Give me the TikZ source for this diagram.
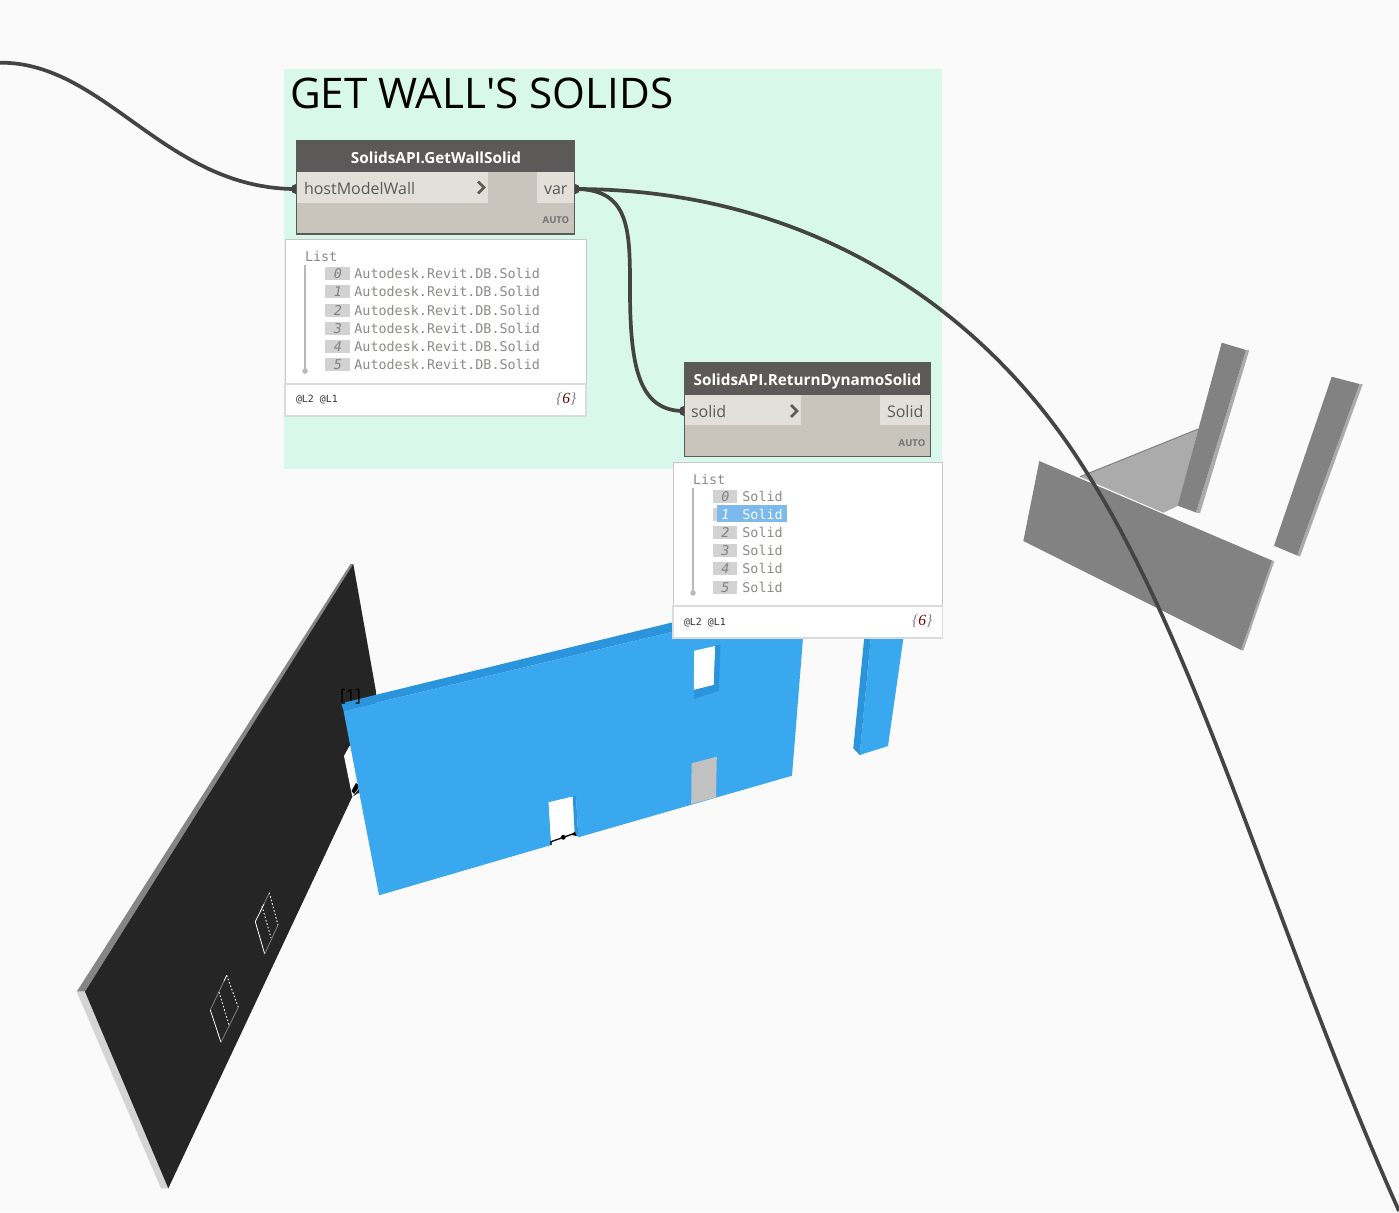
\documentclass[tikz,border=0pt]{standalone}
\usepackage{fontspec}
\setmainfont{Open Sans}
\newfontfamily\monof{DejaVu Sans Mono}
\newfontfamily\serifit{Liberation Serif}
\definecolor{bgc}{HTML}{FAFAFA}
\definecolor{groupc}{HTML}{D8F8EB}
\definecolor{headc}{HTML}{5C5A58}
\definecolor{bodyc}{HTML}{C9C5BD}
\definecolor{rowc}{HTML}{E3E0DA}
\definecolor{wirec}{HTML}{444444}
\definecolor{blueface}{HTML}{3AA8EE}
\definecolor{bluedark}{HTML}{2A95DC}
\definecolor{greyface}{HTML}{828282}
\definecolor{greylite}{HTML}{ABABAB}
\definecolor{blackface}{HTML}{252525}
\definecolor{listtxt}{HTML}{8C8A86}
\definecolor{idxbox}{HTML}{D2D2D2}
\definecolor{hilite}{HTML}{7CB9EC}
\tikzset{
  panel/.style={anchor=north west,inner sep=0pt,outer sep=0pt},
  nodebody/.style={panel,fill=bodyc,draw=headc,line width=1.3pt},
  nodehead/.style={panel,fill=headc},
  portrow/.style={panel,fill=rowc},
  preview/.style={panel,fill=white,draw=black!22,line width=1pt},
  footer/.style={panel,fill=white,draw=black!14,line width=1.2pt},
  idx/.style={panel,fill=idxbox,minimum height=13pt},
  lbl/.style={anchor=base west,inner sep=0pt,outer sep=0pt},
  headtxt/.style={anchor=base,inner sep=0pt,text=white,font=\fontsize{15.3}{16}\selectfont\bfseries},
  porttxt/.style={lbl,text=headc,font=\fontsize{16}{16}\selectfont},
  autotxt/.style={anchor=base east,inner sep=0pt,text=black!55,font=\fontsize{9.5}{10}\selectfont\bfseries},
  monotxt/.style={lbl,text=listtxt,font=\fontsize{13.4}{14}\selectfont\monof},
  idxtxt/.style={anchor=base,inner sep=0pt,text=black!50,font=\fontsize{13.4}{14}\selectfont\monof\itshape},
  smalltxt/.style={lbl,text=black!80,font=\fontsize{9.9}{10}\selectfont\monof},
  counttxt/.style={anchor=base east,inner sep=0pt,font=\fontsize{15.5}{16}\selectfont\serifit\itshape},
  port/.style={circle,fill=wirec,inner sep=0pt,minimum size=10pt},
  wire/.style={draw=wirec,line width=3.7pt},
  treeline/.style={draw=black!28,line width=1.6pt},
  treedot/.style={circle,fill=black!28,inner sep=0pt,minimum size=5.5pt},
  chev/.style={draw=headc,line width=2.8pt,line cap=butt,miter limit=10},
  dots/.style={draw=white,line width=.8pt},
  dotted2/.style={draw=white,line width=.9pt,dash pattern=on 1.6pt off 2pt}
}
\begin{document}
\begin{tikzpicture}[x=1pt,y=-1pt]
\path[use as bounding box,fill=bgc] (0,0) rectangle (1399,1212);

% ---- black wall
\fill[black!48] (76.7,991.7) -- (350.5,564) -- (353.3,564) -- (85,991.7) -- cycle;
\fill[black!17] (76.7,991.7) -- (85,991.7) -- (168.3,1188.3) -- (161,1188.3) -- cycle;
\fill[blackface] (85,991.7) -- (353.3,564) -- (376,691.7) -- (380,780) -- (352.3,796.7) -- (168.3,1188.3) -- cycle;
\fill[white] (344,756) -- (349.5,746) -- (362,746) -- (362,785) -- (352.3,796.7) -- cycle;
\fill[black] (351.5,791) -- (356,783) -- (360,786) -- (354,794) -- cycle;
% window marks
\draw[dots] (264,904) -- (255.3,921.7) -- (264.7,954);
\draw[dots,draw=black!50] (269.3,892.7) -- (264,904);
\draw[dotted2] (269.3,892.7) -- (278,925);
\draw[dotted2] (262,906) -- (271,938);
\draw[dots,draw=black!50] (278,925) -- (264.7,954);
\draw[dots] (226.7,975.3) -- (224,981);
\draw[dots,draw=black!50] (224,981) -- (210.3,1010);
\draw[dots] (210.3,1010) -- (221,1042.3);
\draw[dotted2] (226.7,975.3) -- (238.3,1007.3);
\draw[dotted2] (219,992) -- (229,1025);
\draw[dots,draw=black!50] (238.3,1007.3) -- (221,1042.3);

% ---- blue wall
\fill[bluedark] (341.3,703.3) -- (805,590) -- (805,600) -- (343.5,710.7) -- cycle;
\fill[blueface] (343.5,710.7) -- (805,600) -- (803,638) -- (792,775.7) -- (578.3,837.3) -- (576,796) -- (572.7,796.7) -- (548.6,802.3) -- (551.2,845) -- (379,895.3) -- cycle;
\fill[white] (548.6,802.3) -- (572.7,796.7) -- (574.6,833) -- (551.2,842) -- cycle;
\fill[bluedark] (572.7,796) -- (576,796) -- (578.3,837.3) -- (574.6,831.7) -- cycle;
\draw[black,line width=1.3pt] (551,845) -- (551,841.7) -- (563.3,837.3) -- (574.6,833.3);
\fill[black] (563.3,837.3) circle (2.4pt);
\fill[black] (574.6,831.5) -- (577,836) -- (572,835) -- cycle;
% upper window
\fill[white] (694.2,650.7) -- (715.3,646) -- (713.8,685) -- (693.8,690) -- cycle;
\fill[bluedark] (715.3,645) -- (720.5,645) -- (719,690.7) -- (713.8,685) -- cycle;
\fill[bluedark] (693.8,690) -- (713.8,685) -- (719,690.7) -- (694.2,699) -- cycle;
% grey door
\fill[black!24] (691.6,763.3) -- (716.8,756.7) -- (716,797.3) -- (691.2,804) -- cycle;
% blue column
\fill[blueface] (872.5,620) -- (906,620) -- (888,746) -- (859.7,755) -- cycle;
\fill[bluedark] (866,620) -- (872.5,620) -- (859.7,755) -- (853.3,748.3) -- cycle;
\node[inner sep=0pt,anchor=base,font=\fontsize{17}{17}\selectfont,text=black] (lblone) at (350.5,701) {[1]};

% ---- grey solids
\fill[greylite] (1198.3,429) -- (1080,476.7) -- (1163.3,512.7) -- (1178.3,505.7) -- cycle;
\draw[black!50,line width=1pt] (1198.3,429) -- (1080,476.7);
\fill[greylite] (1246,350) -- (1249.3,350) -- (1200,513.3) -- (1196,512.5) -- cycle;
\fill[greyface] (1221.7,342.7) -- (1246,350) -- (1196,512.5) -- (1177.7,505.7) -- cycle;
\fill[greylite] (1359.5,384) -- (1362.7,384.3) -- (1300,556.7) -- (1297,555.5) -- cycle;
\fill[greyface] (1331.7,376.7) -- (1359.5,384) -- (1297,555.5) -- (1274,545.7) -- cycle;
\fill[greylite] (1272,560.5) -- (1274.3,561) -- (1243.3,650.7) -- (1241,650) -- cycle;
\fill[greyface] (1039.3,461) -- (1272,560.5) -- (1241,650) -- (1023.3,541) -- cycle;

% ---- group
\node[panel,fill=groupc,minimum width=658pt,minimum height=400pt] (group) at (284,69) {};
\node[lbl,text=black,font=\fontsize{42.2}{43}\selectfont] (title) at (290,108.5) {GET WALL\textquotesingle S SOLIDS};

% ---- ports and wires (the nodes are drawn over the ports' inner halves)
\node[port] (pA) at (296,189) {};
\node[port] (pB) at (575,189) {};
\node[port] (pC) at (684,411) {};
\coordinate (inA) at (0,62.7);
\coordinate (outB) at (1399,1211);
\coordinate (mA) at (1087,473);
\coordinate (mB) at (630,290);
\path[wire] (inA) .. controls (105,62) and (165,189) .. (pA.center);
\path[wire] (pB.center) .. controls (630,189) and (630,230) .. (mB) .. controls (630,370) and (640,411) .. (pC.center);
\path[wire] (pB.center) .. controls (800,189) and (980,300) .. (mA) .. controls (1200,650) and (1280,945) .. (outB);

% ---- first node
\node[nodebody,minimum width=278pt,minimum height=93.5pt] (nA) at (296.5,140.5) {};
\node[nodehead,minimum width=279pt,minimum height=32pt] (nAh) at (296,140) {};
\node[headtxt] (nAt) at (436,163) {SolidsAPI.GetWallSolid};
\node[portrow,minimum width=191pt,minimum height=31pt] (nAi) at (297,172) {};
\node[portrow,minimum width=37pt,minimum height=31pt] (nAo) at (537,172) {};
\node[porttxt] (nAit) at (304,194) {hostModelWall};
\node[porttxt] (nAot) at (544,194) {var};
\draw[chev] (478,181.5) -- (484,187.5) -- (478,193.5);
\node[autotxt] (nAa) at (569.5,223) {AUTO};

% ---- first preview
\node[preview,minimum width=301pt,minimum height=145pt] (pvA) at (285,239) {};
\node[footer,minimum width=301pt,minimum height=32pt] (pvAf) at (285,384) {};
\node[monotxt] (pvAl) at (305,261.5) {List};
\draw[treeline] (305,265) -- (305,371);
\node[treedot] (pvAd) at (305,371) {};
\foreach \n/\y in {0/273.5,1/291.5,2/310,3/328,4/346,5/364.5}{
  \node[idx,minimum width=25pt,anchor=west] (a\n) at (325,\y) {};
  \node[idxtxt] (at\n) at (338,\y+5) {\n};
  \node[monotxt] (al\n) at (354.4,\y+5) {Autodesk.Revit.DB.Solid};
}
\node[smalltxt] (pvAc) at (296,402) {@L2 @L1};
\node[counttxt] (pvAn) at (576.5,403) {\textcolor{black!50}{\{}\textcolor{red!45!black}{6}\textcolor{black!50}{\}}};

% ---- second node
\node[nodebody,minimum width=246pt,minimum height=94pt] (nB) at (684.5,362.5) {};
\node[nodehead,minimum width=247pt,minimum height=33pt] (nBh) at (684,362) {};
\node[headtxt] (nBt) at (807.5,385.5) {SolidsAPI.ReturnDynamoSolid};
\node[portrow,minimum width=116pt,minimum height=30pt] (nBi) at (685,395) {};
\node[portrow,minimum width=50pt,minimum height=30pt] (nBo) at (880,395) {};
\node[porttxt] (nBit) at (691,417) {solid};
\node[porttxt] (nBot) at (887,417) {Solid};
\draw[chev] (791,405) -- (797,411) -- (791,417);
\node[autotxt] (nBa) at (925.5,446) {AUTO};

% ---- second preview
\node[preview,minimum width=269.5pt,minimum height=144pt] (pvB) at (673,462) {};
\node[footer,minimum width=269.5pt,minimum height=32pt] (pvBf) at (673,606) {};
\node[monotxt] (pvBl) at (693,484.5) {List};
\draw[treeline] (693,488) -- (693,593);
\node[treedot] (pvBd) at (693,593) {};
\foreach \n/\y in {0/496,1/514,2/532,3/550,4/568.5,5/587}{
  \node[idx,minimum width=24pt,anchor=west] (b\n) at (713,\y) {};
}
\node[panel,fill=hilite,minimum width=70pt,minimum height=17pt] (hl) at (717,505) {};
\foreach \n/\y in {0/496,2/532,3/550,4/568.5,5/587}{
  \node[idxtxt] (bt\n) at (725.5,\y+5) {\n};
  \node[monotxt] (bl\n) at (742.4,\y+5) {Solid};
}
\node[idxtxt,text=white] (bt1) at (725.5,519) {1};
\node[monotxt,text=white] (bl1) at (742.4,519) {Solid};
\node[smalltxt] (pvBc) at (684,625) {@L2 @L1};
\node[counttxt] (pvBn) at (932.5,625.5) {\textcolor{black!50}{\{}\textcolor{red!45!black}{6}\textcolor{black!50}{\}}};
\end{tikzpicture}
\end{document}
